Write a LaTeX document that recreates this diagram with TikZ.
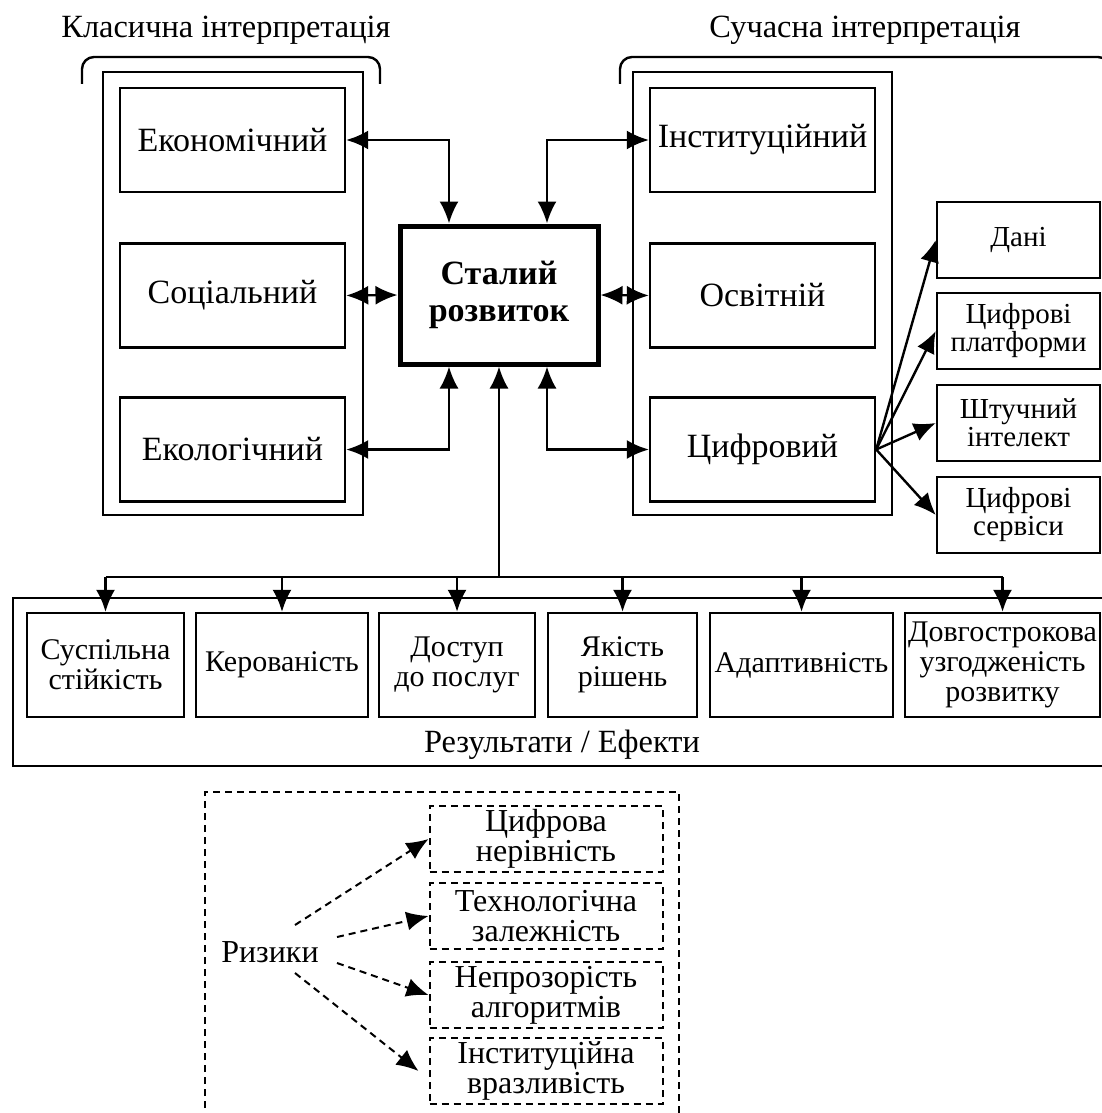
\documentclass[tikz,border=0pt]{standalone}
\usepackage{fontspec}
\setmainfont{Liberation Serif}
\usepackage{tikz}
\usetikzlibrary{arrows.meta}
\usetikzlibrary{positioning}

\tikzset{
  box/.style={draw, line width=1.2pt, inner sep=1pt, align=center},
  mainbox/.style={box, minimum width=112.5pt, minimum height=52pt, font=\fontsize{17}{20}\selectfont},
  sidebox/.style={box, minimum width=81.5pt, minimum height=38pt, font=\fontsize{14.5}{14}\selectfont},
  resbox/.style={box, minimum height=52pt, font=\fontsize{15}{15}\selectfont},
  riskbox/.style={box, line width=1pt, dash pattern=on 3.5pt off 2.5pt, minimum width=116.5pt, minimum height=33pt, font=\fontsize{16}{15}\selectfont},
  link/.style={line width=1.2pt, -{Latex[length=11pt,width=9.5pt]}},
  both/.style={line width=1.2pt, {Latex[length=11pt,width=9.5pt]}-{Latex[length=11pt,width=9.5pt]}},
  risklink/.style={line width=1pt, dash pattern=on 3.5pt off 2.5pt, -{Latex[length=11pt,width=9.5pt]}},
  header/.style={font=\fontsize{16.2}{18}\selectfont}
}

\begin{document}
\begin{tikzpicture}[x=0.5pt,y=-0.5pt]
\useasboundingbox (0,0) rectangle (1102,1113);

% headers and braces
\node[header] (hclass) at (226,30) {Класична інтерпретація};
\node[header] (hmod) at (865,30) {Сучасна інтерпретація};
\draw[line width=1.2pt, rounded corners=6pt] (82,84) |- (230,57) -| (380,84);
\draw[line width=1.2pt, rounded corners=6pt] (620,84) |- (860,57) -| (1110,84);

% groups
\draw[line width=1.2pt] (103,72) rectangle (363,515);
\draw[line width=1.2pt] (633,72) rectangle (892,515);

\node[mainbox] (econ) at (232.5,140) {Економічний};
\node[mainbox] (soc) at (232.5,295.5) {Соціальний};
\node[mainbox] (eco) at (232.5,449.5) {Екологічний};
\node[mainbox] (inst) at (762.5,140) {Інституційний};
\node[mainbox] (osv) at (762.5,295.5) {Освітній};
\node[mainbox] (dig) at (762.5,449.5) {Цифровий};

\node[box, line width=2.5pt, minimum width=99pt, minimum height=69pt,
  font=\bfseries\fontsize{17}{18.5}\selectfont] (sd) at (499,295) {Сталий\\розвиток};

% digital components
\node[sidebox] (data) at (1018.5,240) {Дані};
\node[sidebox] (plat) at (1018.5,331) {Цифрові\\платформи};
\node[sidebox] (ai) at (1018.5,423) {Штучний\\інтелект};
\node[sidebox] (serv) at (1018.5,515) {Цифрові\\сервіси};

\draw[both] (econ.east) -| ([xshift=-25pt]sd.north);
\draw[both] (inst.west) -| ([xshift=24pt]sd.north);
\draw[both] (soc.east) -- (sd.west);
\draw[both] (sd.east) -- (osv.west);
\draw[both] (eco.east) -| ([xshift=-25pt]sd.south);
\draw[both] (dig.west) -| ([xshift=24pt]sd.south);
\foreach \n in {data,plat,ai,serv}
  \draw[link] (dig.east) -- (\n.west);

% results
\draw[line width=1.2pt] (13,598) rectangle (1106,766);
\node[resbox, minimum width=78.5pt] (r1) at (105.5,665) {Суспільна\\стійкість};
\node[resbox, minimum width=86pt] (r2) at (282,665) {Керованість};
\node[resbox, minimum width=78pt] (r3) at (457,665) {Доступ\\до послуг};
\node[resbox, minimum width=74.5pt] (r4) at (622.5,665) {Якість\\рішень};
\node[resbox, minimum width=91.5pt] (r5) at (801.5,665) {Адаптивність};
\node[resbox, minimum width=97.5pt] (r6) at (1002.5,665) {Довгострокова\\узгодженість\\розвитку};
\node[font=\fontsize{16.2}{18}\selectfont] (reslabel) at (562,745) {Результати / Ефекти};

\coordinate (bus) at (499,577);
\draw[link] (bus) -- (sd.south);
\draw[line width=1.2pt] (r1.north |- bus) -- (r6.north |- bus);
\foreach \r in {r1,r2,r3,r4,r5,r6}
  \draw[link] (\r.north |- bus) -- (\r.north);

% risks
\draw[line width=1pt, dash pattern=on 3.5pt off 2.5pt] (205,1120) |- (440,792) -| (679,1120);
\node[font=\fontsize{16}{18}\selectfont] (riz) at (270,952) {Ризики};
\node[riskbox] (k1) at (546,839) {Цифрова\\нерівність};
\node[riskbox] (k2) at (546,916) {Технологічна\\залежність};
\node[riskbox] (k3) at (546,995) {Непрозорість\\алгоритмів};
\node[riskbox] (k4) at (546,1071) {Інституційна\\вразливість};
\draw[risklink] ([shift={(12.5pt,13.5pt)}]riz.center) -- (k1.west);
\draw[risklink] ([shift={(33.5pt,7.5pt)}]riz.center) -- (k2.west);
\draw[risklink] ([shift={(33.5pt,-5.5pt)}]riz.center) -- (k3.west);
\draw[risklink] ([shift={(12.5pt,-10.5pt)}]riz.center) -- ([xshift=-5pt]k4.west);
\end{tikzpicture}
\end{document}
